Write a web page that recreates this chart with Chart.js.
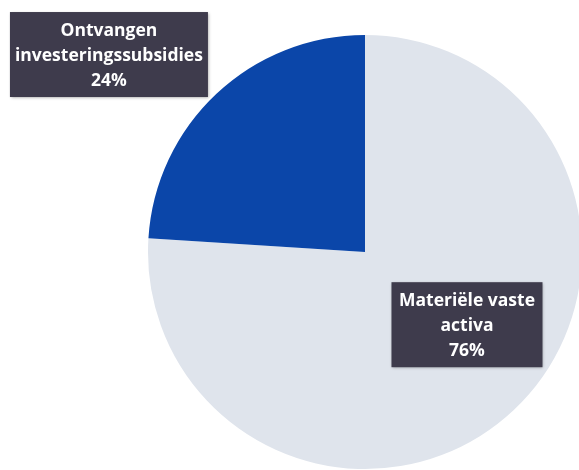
<!DOCTYPE html>
<html lang="nl">
<head>
  <meta charset="UTF-8" />
  <title>Pie</title>
  <style>
    html, body { margin: 0; padding: 0; background: #fff; overflow: hidden; width: 579px; height: 470px; }
    #wrap { position: absolute; left: 0; top: 0; width: 730px; height: 470px; }
  </style>
</head>
<body>
  <div id="wrap"><canvas id="graph" width="730" height="470"></canvas></div>
  <script src="https://cdn.jsdelivr.net/npm/chart.js@4"></script>
  <script>
// data
const categories = ['Materiële vaste activa', 'Ontvangen investeringssubsidies']
const shares = [76, 24]
const labelLines = [['Materiële vaste', 'activa'], ['Ontvangen', 'investeringssubsidies']]
const colors = ['#dfe4ec', '#0b46a9']

// label boxes, centre given as a fraction of the radius from the pie centre
const boxSpots = [{ fx: 0.47, fy: 0.335, w: 151 }, { fx: -1.18, fy: -0.91, w: 198 }]

const boxLabels = {
  id: 'boxLabels',
  afterDraw(chart) {
    const ctx = chart.ctx
    const meta = chart.getDatasetMeta(0)
    meta.data.forEach((arc, i) => {
      const spot = boxSpots[i]
      const cx = arc.x + arc.outerRadius * spot.fx
      const cy = arc.y + arc.outerRadius * spot.fy
      const h = 85
      ctx.save()
      ctx.shadowColor = 'rgba(0,0,0,0.35)'
      ctx.shadowBlur = 3
      ctx.shadowOffsetX = 1
      ctx.shadowOffsetY = 1
      ctx.fillStyle = '#3e3b4c'
      ctx.fillRect(cx - spot.w / 2, cy - h / 2, spot.w, h)
      ctx.restore()
      ctx.save()
      ctx.fillStyle = '#ffffff'
      ctx.font = 'bold 17.5px "Open Sans", sans-serif'
      ctx.textAlign = 'center'
      ctx.textBaseline = 'middle'
      const lines = labelLines[i].concat([shares[i] + '%'])
      lines.forEach((t, k) => {
        ctx.fillText(t, cx, cy - 24 + k * 25)
      })
      ctx.restore()
    })
  }
}

new Chart(document.getElementById('graph'), {
  type: 'pie',
  data: {
    labels: categories,
    datasets: [{
      data: shares,
      backgroundColor: colors,
      borderWidth: 0
    }]
  },
  options: {
    responsive: false,
    animation: false,
    layout: { padding: { top: 35, bottom: 1, left: 0, right: 0 } },
    plugins: {
      legend: { display: false },
      tooltip: { enabled: false }
    }
  },
  plugins: [boxLabels]
})
  </script>
</body>
</html>
